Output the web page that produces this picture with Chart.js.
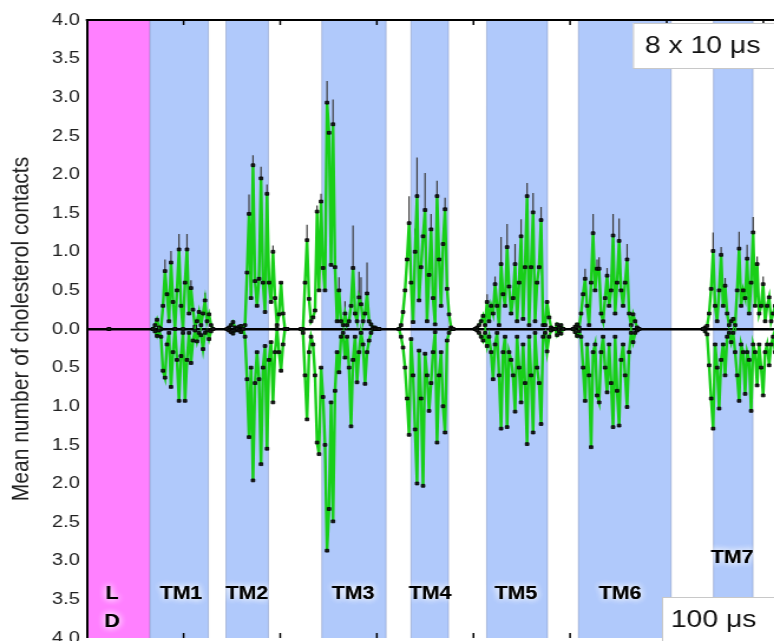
<!DOCTYPE html>
<html><head><meta charset="utf-8">
<script src="https://cdn.jsdelivr.net/npm/chart.js@4/dist/chart.umd.min.js"></script>
<style>
html,body{margin:0;padding:0;overflow:hidden;background:#fff;width:774px;height:641px}
#wrap{position:absolute;left:0;top:0;width:680px;height:680px;transform:scaleX(1.18);transform-origin:0 0}
</style></head><body>
<div id="wrap"><canvas id="c" width="680" height="680"></canvas></div>
<script>
// ---- data (x = residue position, y = mean contacts) ----
const segStart = [11, 33, 70, 107, 156, 194, 234, 243, 308];
const upperVals = [
  [0],
  [0,0.05,0.12,0.02,0,0.3,0.75,0.45,0.1,0.86,0.35,0,0.5,1.03,0.3,0,0.6,1.03,0.2,0.53,0.25,0.03,0.1,0.22,0.05,0.2,0.37,0.1,0.19,0.05,0],
  [0,0.02,0.05,0.09,0.02,0,0.03,0.04,0,0.05,0.73,1.49,0.4,2.12,0.62,0.3,0.65,1.95,0.6,0.22,1.75,0.6,0.35,1.0,0.4,0.05,0.19,0.6,0.2,0,0],
  [0,0,0.6,1.15,0.39,0.1,0.15,0.24,1.52,0.5,1.65,0.79,0.5,2.93,2.54,0.83,2.65,0.8,0.1,0.5,0.1,0.05,0.2,0.05,0.1,0.3,0.79,0.2,0.1,0.41,0.32,0.1,0.2,0.46,0.1,0.06,0.02,0.02,0,0],
  [0,0.05,0.22,0.5,0.9,1.37,0.6,0.09,1.0,1.72,0.37,0.8,1.2,1.54,0.1,0.7,1.29,0.4,0.06,1.72,0.9,0.3,1.1,1.55,0.52,0.19,0.02,0],
  [0,0.02,0.05,0.1,0.17,0.05,0.35,0.1,0.3,0.2,0.58,0.3,0.05,0.84,0.45,0.3,1.06,0.55,0.2,0.4,0.84,0.1,0.6,1.2,0.13,0.8,1.72,0.05,0.8,1.51,0.1,0.6,0.8,1.41,0.05,0.05,0.35,0.15,0.02,0],
  [0,0.06,0.02,0.05,0],
  [0,0.03,0.06,0.02,0.2,0.45,0.65,0.3,0.05,0.6,1.24,0.5,0.78,0.78,0.2,0.1,0.4,0.69,0.3,0.5,1.21,0.2,0.6,1.14,0.5,0.3,0.6,0.9,0.2,0.05,0.19,0.1,0.02,0],
  [0,0.02,0.04,0.2,0.52,1.01,0.3,0.1,0.5,0.96,0.3,0.56,0.2,0.05,0.1,0.13,0.05,0.5,1.04,0.3,0.5,0.4,0.91,0.2,0.6,1.25,0.3,0.84,0.2,0.3,0.58,0.1,0.3,0.41,0.1,0.2,0.3,0.05]
];
const lowerVals = [
  [0],
  [0,0.03,0.09,0.02,0.1,0.54,0.63,0.2,0.05,0.75,0.3,0,0.4,0.93,0.35,0.05,0.93,0.4,0.05,0.44,0.15,0.02,0.16,0.05,0.08,0.26,0.05,0.02,0.13,0.03,0],
  [0,0.02,0.04,0.06,0.02,0,0.02,0.04,0,0.1,0.65,1.4,0.5,1.96,0.7,0.3,0.65,1.75,0.5,0.22,1.55,0.4,0.17,0.95,0.3,0,0.3,0.54,0.2,0,0],
  [0,0.05,0.6,1.17,0.3,0.1,0.2,0.6,1.47,1.62,0.5,0.88,1.5,2.87,2.33,0.95,2.49,0.8,0.3,0.56,0.1,0.05,0.37,0.1,0.5,1.26,0.4,0.1,0.69,0.3,0.05,0.2,0.71,0.3,0.15,0.05,0,0,0,0],
  [0,0.1,0.24,0.5,0.9,1.37,0.13,0.6,1.3,2.0,0.28,0.9,2.03,0.32,0.6,1.06,0.7,0.3,0.04,1.47,0.6,0.3,1.0,1.34,0.15,0.05,0,0],
  [0,0.02,0.05,0.1,0.15,0.05,0.22,0.1,0.3,0.65,0.2,0.05,0.6,1.29,0.3,0.1,1.27,0.3,0.4,0.6,1.07,0.1,0.5,0.95,0.2,0.7,1.49,0.1,0.6,1.34,0.05,0.5,0.7,1.23,0.1,0.05,0.29,0.1,0.02,0],
  [0,0.08,0.03,0.06,0],
  [0,0.04,0.09,0.03,0.1,0.5,0.93,0.2,0.6,1.53,0.3,0.2,0.86,0.95,0.3,0.1,0.5,0.82,0.2,0.7,1.27,0.1,0.8,1.25,0.4,0.2,0.6,1.01,0.3,0.05,0.17,0.05,0.02,0],
  [0,0.03,0.07,0.47,0.9,1.29,0.2,0.5,1.03,0.4,0.2,0.6,0.1,0.05,0.17,0.05,0.3,0.6,0.93,0.2,0.3,0.84,0.3,0.4,1.06,0.2,0.3,0.73,0.2,0.5,0.86,0.3,0.2,0.47,0.2,0.1,0.3,0.1]
];
// error bars (upper series, 8 x 10 us)
const errX  = [39,42,46,50,52,59, 81,83,87,90,93, 110,115,117,120,123,126,129,133,136,137,140, 158,161,164,165,169,170,172,175,179, 200,204,207,210,212,214,217,220,223,227, 249,253,255,256,260,263,266,270, 313,317,319,326,330,333,335,338];
const errUp = [0.15,0.15,0.2,0.2,0.1,0.1, 0.25,0.13,0.15,0.12,0.08, 0.2,0.08,0.1,0.28,0.32,0.17,0.16,0.55,0.33,0.35,0.4, 0.1,0.35,0.3,0.5,0.48,0.25,0.2,0.2,0.15, 0.1,0.1,0.35,0.3,0.15,0.26,0.22,0.17,0.25,0.17, 0.13,0.25,0.12,0.15,0.1,0.28,0.29,0.2, 0.24,0.1,0.1,0.22,0.18,0.2,0.1,0.1];
// domain bands
const bandNames = ['LD','TM1','TM2','TM3','TM4','TM5','TM6','TM7'];
const bandStart = [0, 31.5, 69.5, 117.4, 162, 199.8, 245.7, 313.2];
const bandEnd   = [31.5, 60.7, 90.7, 149.5, 180.7, 230.2, 292, 332.9];
const labelText = ['L','D','TM1','TM2','TM3','TM4','TM5','TM6','TM7'];
const labelX    = [12.5,12.5,47,80,133,171.5,214.5,266.5,322.5];
const labelY    = [-3.43,-3.79,-3.43,-3.43,-3.43,-3.43,-3.43,-3.43,-2.96];
const yTickStep = 0.5;
const xTickMarks = [48.3,96.6,144.9,193.2,241.5,289.8,338.1];
const seriesNames = ['8 x 10 μs','100 μs'];

const FONT = "'Liberation Sans', Arial, sans-serif";
const GREEN = '#18cf18';

function buildPoints(vals, sign){
  const pts = [];
  segStart.forEach((s,k)=>{
    vals[k].forEach((v,i)=>pts.push({x:s+i, y:sign*v}));
    pts.push({x:s+vals[k].length-0.5, y:null});
  });
  return pts;
}
function upperAt(xv){
  for(let k=0;k<segStart.length;k++){
    const i = xv-segStart[k];
    if(i>=0 && i<upperVals[k].length) return upperVals[k][i];
  }
  return 0;
}

const bandsPlugin = {
  id:'bands',
  beforeDraw(chart){
    const {ctx, chartArea:a, scales:{x}} = chart;
    ctx.save();
    ctx.fillStyle='#fff'; ctx.fillRect(0,0,chart.width,chart.height);
    bandNames.forEach((n,i)=>{
      const x0=x.getPixelForValue(bandStart[i]), x1=x.getPixelForValue(bandEnd[i]);
      ctx.fillStyle = n==='LD' ? '#ff80ff' : '#b0c9fb';
      ctx.fillRect(x0,a.top,x1-x0,a.bottom-a.top);
      ctx.strokeStyle = n==='LD' ? 'rgba(180,90,200,0.6)' : 'rgba(120,140,185,0.6)';
      ctx.lineWidth=0.8;
      ctx.beginPath(); ctx.moveTo(x0,a.top); ctx.lineTo(x0,a.bottom); ctx.moveTo(x1,a.top); ctx.lineTo(x1,a.bottom); ctx.stroke();
    });
    ctx.restore();
  }
};
const errPlugin = {
  id:'errbars',
  beforeDatasetsDraw(chart){
    const {ctx, chartArea:a, scales:{x,y}} = chart;
    ctx.save();
    ctx.beginPath(); ctx.rect(a.left,a.top,a.width,a.height); ctx.clip();
    ctx.strokeStyle='#3c3c3c'; ctx.lineWidth=1.2;
    errX.forEach((xv,i)=>{
      const b=upperAt(xv), px=x.getPixelForValue(xv);
      ctx.beginPath(); ctx.moveTo(px,y.getPixelForValue(b)); ctx.lineTo(px,y.getPixelForValue(b+errUp[i])); ctx.stroke();
    });
    ctx.restore();
  }
};
const decoPlugin = {
  id:'deco',
  afterDraw(chart){
    const {ctx, chartArea:a, scales:{x,y}} = chart;
    ctx.save();
    ctx.strokeStyle='#000'; ctx.lineWidth=2;
    ctx.beginPath(); ctx.moveTo(a.left-1,a.top); ctx.lineTo(a.right,a.top); ctx.stroke();
    ctx.lineWidth=1.5;
    xTickMarks.forEach(v=>{const px=x.getPixelForValue(v); ctx.beginPath(); ctx.moveTo(px,a.top); ctx.lineTo(px,a.top+5); ctx.stroke(); ctx.beginPath(); ctx.moveTo(px,a.bottom); ctx.lineTo(px,a.bottom-5); ctx.stroke();});
    ctx.font = "bold 18px "+FONT;
    ctx.textAlign='center'; ctx.textBaseline='middle';
    labelText.forEach((t,i)=>{
      const px=x.getPixelForValue(labelX[i]), py=y.getPixelForValue(labelY[i]);
      ctx.shadowColor='rgba(255,255,255,0.95)'; ctx.shadowBlur=6;
      ctx.fillStyle='#000';
      ctx.fillText(t,px,py); ctx.fillText(t,px,py);
    });
    ctx.shadowBlur=0;
    const boxes = [{t:seriesNames[0], l:536.4, top:23, h:45, tx:546.5},{t:seriesNames[1], l:561, top:597, h:50, tx:568.5}];
    boxes.forEach(b=>{
      ctx.fillStyle='#fff'; ctx.fillRect(b.l,b.top,chart.width-b.l+2,b.h);
      ctx.strokeStyle='#c8c8c8'; ctx.lineWidth=1;
      ctx.strokeRect(b.l+0.5,b.top+0.5,chart.width-b.l+2,b.h);
      ctx.fillStyle='#111'; ctx.font='24px '+FONT; ctx.textAlign='left'; ctx.textBaseline='middle';
      ctx.fillText(b.t,b.tx,b.top+23);
    });
    ctx.restore();
  }
};

new Chart(document.getElementById('c'), {
  type:'line',
  data:{datasets:[
    {label:seriesNames[1], data:buildPoints(lowerVals,-1)},
    {label:seriesNames[0], data:buildPoints(upperVals,1)}
  ].map(d=>Object.assign(d,{borderColor:GREEN,borderWidth:2.4,tension:0,spanGaps:false,
      pointStyle:'rect',pointRadius:2,pointBackgroundColor:'#1a1a1a',pointBorderColor:'#000',pointBorderWidth:0.8}))},
  options:{
    responsive:false, animation:false,
    layout:{padding:{left:0,top:20,right:0,bottom:42}},
    plugins:{legend:{display:false},tooltip:{enabled:false}},
    scales:{
      x:{type:'linear',min:0,max:354.8,display:false},
      y:{min:-4,max:4,
        afterFit(s){s.width=73.7;},
        ticks:{stepSize:yTickStep,callback:v=>Math.abs(v).toFixed(1),color:'#222',font:{family:FONT,size:17},padding:6},
        grid:{drawTicks:false,color:c=>c.tick&&c.tick.value===0?'#000':'rgba(0,0,0,0)',lineWidth:c=>c.tick&&c.tick.value===0?2.5:0},
        border:{display:true,color:'#000',width:2},
        title:{display:true,text:'Mean number of cholesterol contacts',color:'#222',font:{family:FONT,size:21},padding:{top:6,bottom:0}}
      }
    }
  },
  plugins:[bandsPlugin,errPlugin,decoPlugin]
});
</script>
</body></html>
